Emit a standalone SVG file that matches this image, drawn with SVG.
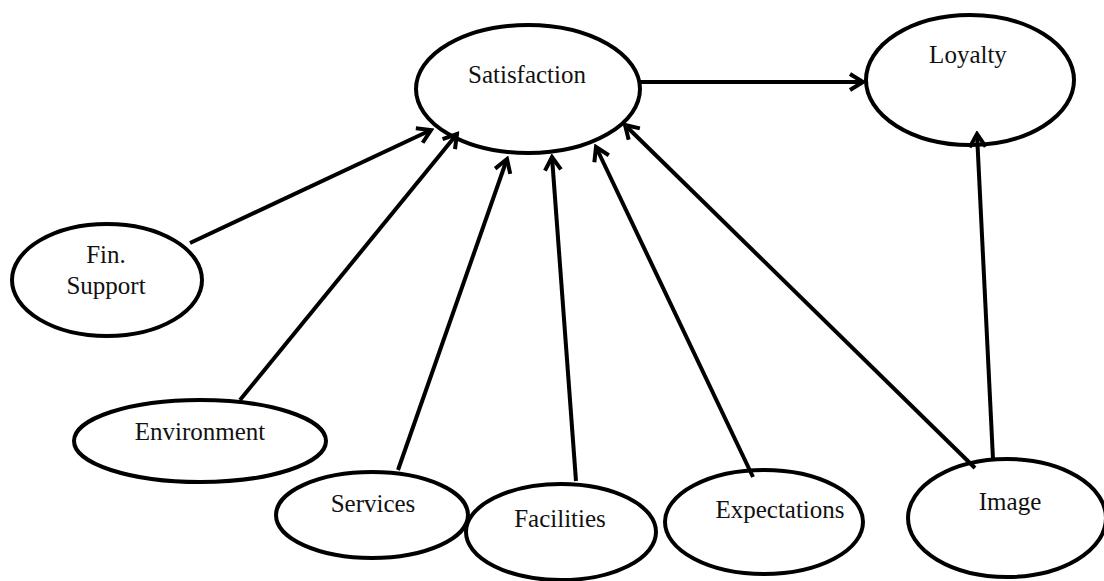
<svg xmlns="http://www.w3.org/2000/svg" width="1104" height="581" viewBox="0 0 1104 581">
<style>
.node ellipse{fill:#fff;stroke:#000;stroke-width:4}
.node text{font-family:"Liberation Serif","Times New Roman",serif;font-size:25px;fill:#111;text-anchor:middle}
#connectors line{stroke:#000;stroke-width:4;marker-end:url(#arr)}
</style>
<defs>
<marker id="arr" viewBox="0 0 20 20" refX="17" refY="10" markerWidth="20" markerHeight="20" markerUnits="userSpaceOnUse" orient="auto">
<path d="M4,2 L17,10 L4,18" fill="none" stroke="#000" stroke-width="4" stroke-linejoin="miter"/>
</marker>
</defs>
<rect width="1104" height="581" fill="#fff"/>
<g id="satisfaction" class="node"><ellipse cx="528" cy="89" rx="112" ry="64"/><text x="527" y="83">Satisfaction</text></g>
<g id="loyalty" class="node"><ellipse cx="970" cy="80" rx="104" ry="65"/><text x="968" y="63">Loyalty</text></g>
<g id="fin-support" class="node"><ellipse cx="107" cy="280" rx="95" ry="56"/><text x="106" y="263">Fin.</text><text x="106" y="294">Support</text></g>
<g id="environment" class="node"><ellipse cx="200" cy="441" rx="126" ry="41"/><text x="200" y="440">Environment</text></g>
<g id="services" class="node"><ellipse cx="372" cy="515" rx="96" ry="43"/><text x="373" y="512">Services</text></g>
<g id="facilities" class="node"><ellipse cx="561" cy="532" rx="95" ry="48"/><text x="560" y="527">Facilities</text></g>
<g id="expectations" class="node"><ellipse cx="764" cy="522" rx="99" ry="52"/><text x="780" y="518">Expectations</text></g>
<g id="image" class="node"><ellipse cx="1007" cy="518" rx="99" ry="59"/><text x="1010" y="510">Image</text></g>
<g id="connectors">
<line x1="640" y1="82" x2="863" y2="82"/>
<line x1="190" y1="243" x2="431" y2="130"/>
<line x1="240" y1="400" x2="457" y2="134"/>
<line x1="398" y1="470" x2="507" y2="159"/>
<line x1="576" y1="481" x2="552" y2="157"/>
<line x1="753" y1="477" x2="596" y2="147"/>
<line x1="975" y1="468" x2="625" y2="125"/>
<line x1="993" y1="459" x2="977" y2="134"/>
</g>
</svg>
